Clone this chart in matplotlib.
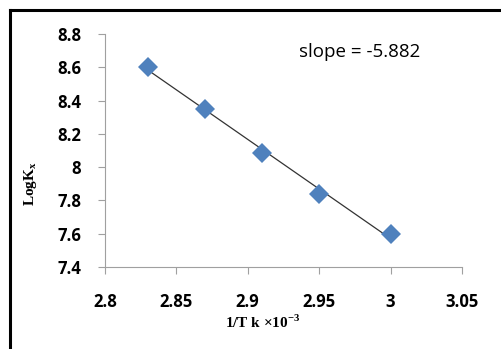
import matplotlib
matplotlib.use("Agg")
import matplotlib.pyplot as plt
import numpy as np
from matplotlib.lines import Line2D

# inverse temperature (x10^-3) and log K values
inv_T = [2.83, 2.87, 2.91, 2.95, 3.00]
log_K = [8.60, 8.35, 8.085, 7.84, 7.60]
x_ticks = [2.8, 2.85, 2.9, 2.95, 3.0, 3.05]
y_ticks = [7.4, 7.6, 7.8, 8.0, 8.2, 8.4, 8.6, 8.8]
x_tick_labels = ["2.8", "2.85", "2.9", "2.95", "3", "3.05"]
y_tick_labels = ["7.4", "7.6", "7.8", "8", "8.2", "8.4", "8.6", "8.8"]

plt.rcParams["mathtext.fontset"] = "custom"
plt.rcParams["mathtext.rm"] = "Liberation Serif:bold"

fig = plt.figure(figsize=(5.01, 3.49), dpi=100)
ax = fig.add_axes([0.2096, 0.235, 0.922 - 0.2096, 0.9026 - 0.235])

# least squares line through the points
coef = np.polyfit(inv_T, log_K, 1)
xs = np.array([inv_T[0], inv_T[-1]])
ax.plot(xs, np.polyval(coef, xs), color="#333333", lw=0.9, zorder=2)
ax.plot(inv_T, log_K, "D", color="#4F81BD", markersize=10, markeredgewidth=0, zorder=3)

ax.set_xlim(2.8, 3.05)
ax.set_ylim(7.4, 8.8)
ax.set_xticks(x_ticks)
ax.set_xticklabels(x_tick_labels)
ax.set_yticks(y_ticks)
ax.set_yticklabels(y_tick_labels)
for s in ["top", "right"]:
    ax.spines[s].set_visible(False)
for s in ["left", "bottom"]:
    ax.spines[s].set_color("#A0A0A0")
    ax.spines[s].set_linewidth(0.8)
ax.tick_params(colors="#A0A0A0", length=5, width=0.8)
ax.tick_params(axis="x", pad=14)
ax.tick_params(axis="y", pad=12)
for lab in ax.get_xticklabels() + ax.get_yticklabels():
    lab.set_color("black")
    lab.set_fontfamily("Open Sans")
    lab.set_fontweight("bold")
    lab.set_fontsize(12)

ax.text(0.714, 0.923, "slope = -5.882", transform=ax.transAxes, fontsize=13.5,
        family="Open Sans", ha="center", va="center")

fig.text(0.525, 0.075, "1/T k \u00d710$^{\\mathrm{-3}}$", ha="center", va="center",
         family="Liberation Serif", fontweight="bold", fontsize=11)
fig.text(0.06, 0.475, "LogK$_{\\mathrm{x}}$", ha="center", va="center", rotation=90,
         family="Liberation Serif", fontweight="bold", fontsize=11)

# frame around the chart area
fig.add_artist(Line2D([10 / 501, 1], [1 - 10 / 349, 1 - 10 / 349], color="black", lw=2.2))
fig.add_artist(Line2D([10 / 501, 10 / 501], [1 - 10 / 349, 0], color="black", lw=2.2))

fig.savefig("out.png", dpi=100)
